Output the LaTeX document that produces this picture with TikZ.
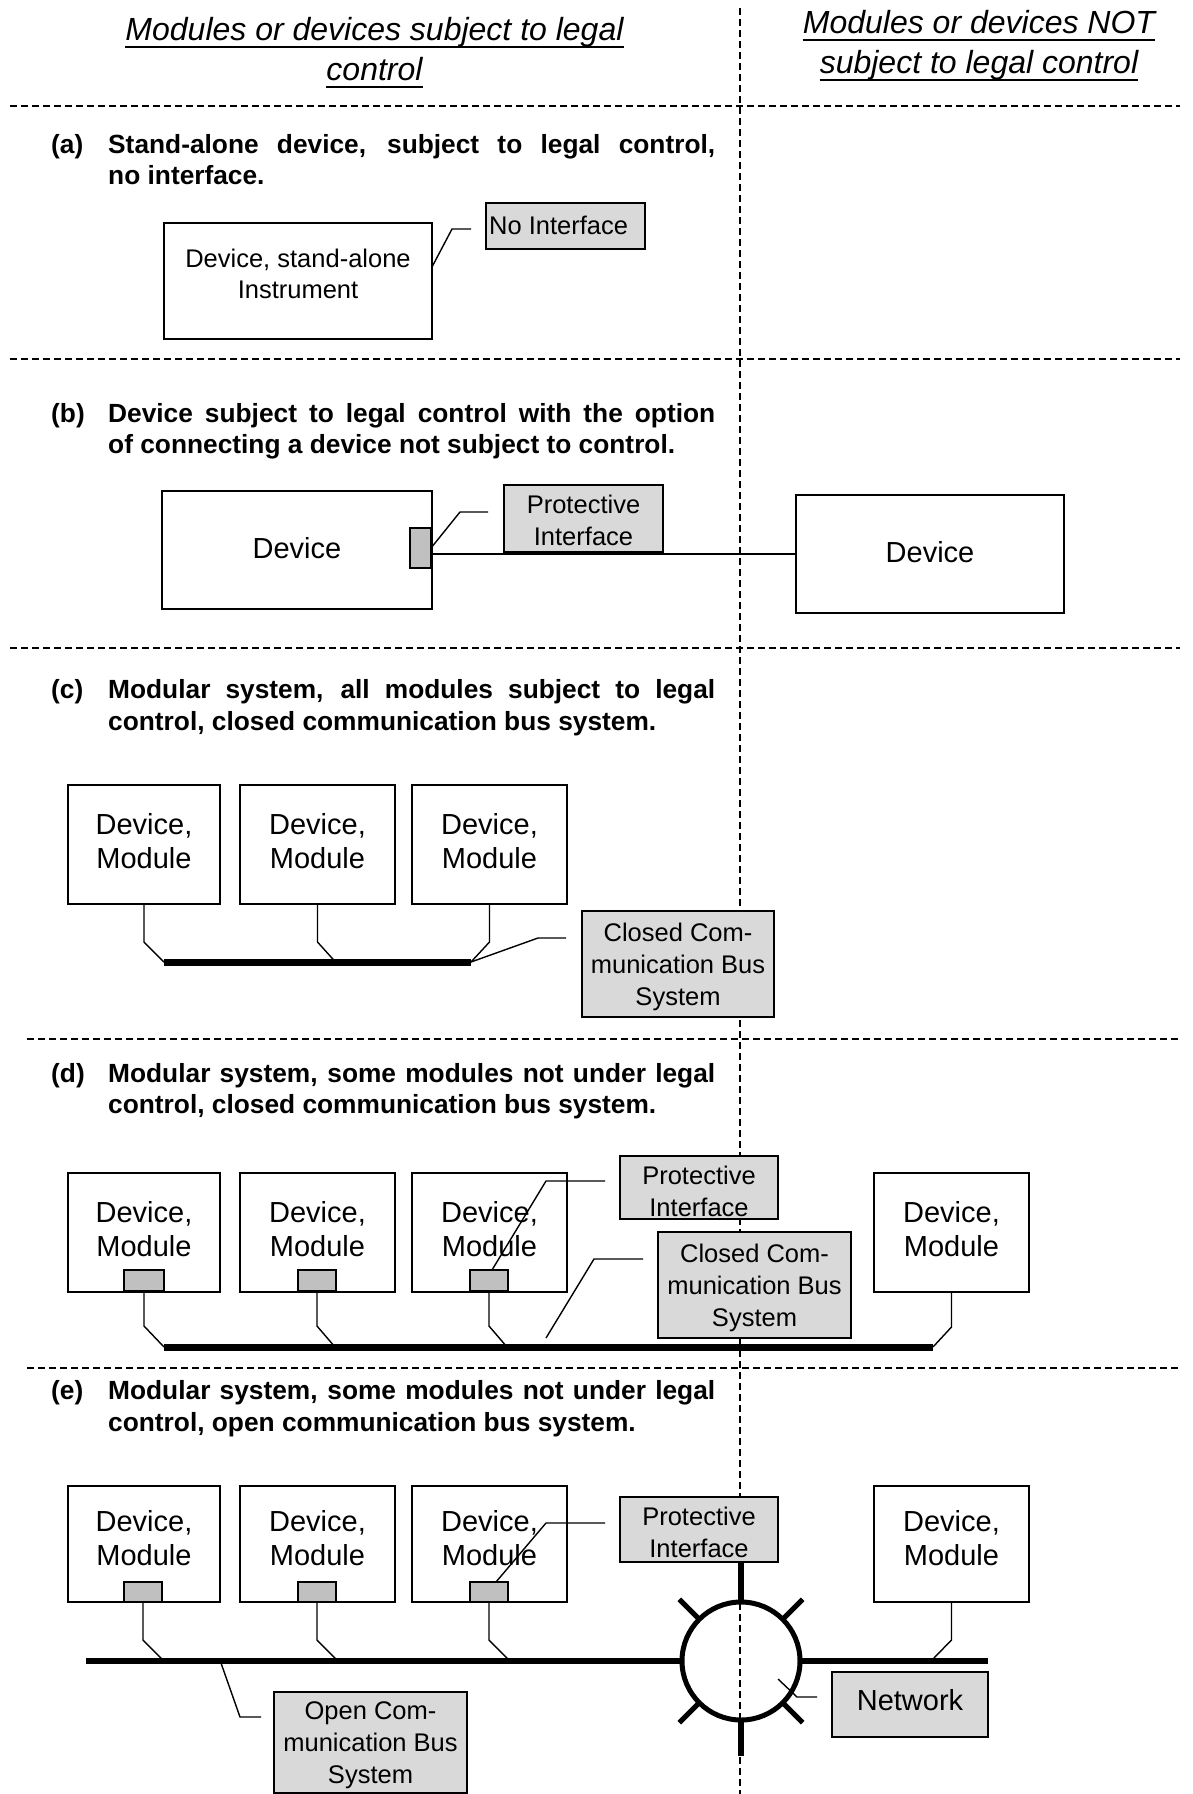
\documentclass[tikz,border=0pt]{standalone}
\usepackage{fontspec}
\setmainfont{Liberation Sans}
\definecolor{boxgray}{HTML}{D9D9D9}
\definecolor{smgray}{HTML}{C0C0C0}
\newcommand\tl[1]{\begin{tabular}[t]{@{}c@{}}#1\end{tabular}}
\newcommand\jline[1]{\makebox[607pt][s]{#1}}
\begin{document}
\begin{tikzpicture}[x=1pt,y=-1pt,
  dev/.style={draw, line width=1.7pt, fill=white, inner sep=0pt, outer sep=0pt, anchor=north west},
  gbox/.style={dev, fill=boxgray},
  sbox/.style={dev, fill=smgray, line width=1.5pt},
  wire/.style={line width=1.4pt},
  busline/.style={line width=7pt},
  busthin/.style={line width=6pt},
  stub/.style={line width=6.5pt},
  spike/.style={line width=5pt},
  dashln/.style={line width=1.3pt, dash pattern=on 7pt off 4pt},
  bigtxt/.style={inner sep=0pt, anchor=base, font=\fontsize{29}{34}\selectfont},
  smtxt/.style={inner sep=0pt, anchor=base, font=\fontsize{25.5}{32}\selectfont},
  hdtxt/.style={inner sep=0pt, anchor=base, font=\fontsize{32}{40}\selectfont\itshape},
  lbl/.style={inner sep=0pt, anchor=base west, font=\fontsize{26.3}{31}\selectfont\bfseries},
]
\useasboundingbox[fill=white] (0,0) rectangle (1192,1794);

% ---------- dashed grid ----------
\coordinate (h1a) at (10,106);   \coordinate (h1b) at (1180,106);
\coordinate (h2a) at (10,359);   \coordinate (h2b) at (1180,359);
\coordinate (h3a) at (10,648);   \coordinate (h3b) at (1180,648);
\coordinate (h4a) at (27,1039);  \coordinate (h4b) at (1180,1039);
\coordinate (h5a) at (27,1368);  \coordinate (h5b) at (1180,1368);
\coordinate (va) at (740,8);     \coordinate (vb) at (740,1794);
\foreach \p in {h1,h2,h3,h4,h5} \draw[dashln] (\p a) -- (\p b);
\draw[dashln] (va) -- (vb);

% ---------- headers ----------
\node[hdtxt] (hl1) at (374.5,40) {Modules or devices subject to legal};
\node[hdtxt] (hl2) at (374.5,80) {control};
\node[hdtxt] (hr1) at (979,33) {Modules or devices NOT};
\node[hdtxt] (hr2) at (979,73) {subject to legal control};
\foreach \n in {hl1,hl2,hr1,hr2}
  \draw[line width=2pt] ([yshift=-7pt]\n.base west) -- ([yshift=-7pt]\n.base east);

% ---------- section headings ----------
\node[lbl] (la) at (51,153) {(a)};
\node[lbl] (la1) at (108,153) {\jline{Stand-alone device, subject to legal control,}};
\node[lbl] (la2) at (108,184) {no interface.};
\node[lbl] (lb) at (51,422) {(b)};
\node[lbl] (lb1) at (108,422) {\jline{Device subject to legal control with the option}};
\node[lbl] (lb2) at (108,453) {of connecting a device not subject to control.};
\node[lbl] (lc) at (51,698) {(c)};
\node[lbl] (lc1) at (108,698) {\jline{Modular system, all modules subject to legal}};
\node[lbl] (lc2) at (108,730) {control, closed communication bus system.};
\node[lbl] (ld) at (51,1082) {(d)};
\node[lbl] (ld1) at (108,1082) {\jline{Modular system, some modules not under legal}};
\node[lbl] (ld2) at (108,1113) {control, closed communication bus system.};
\node[lbl] (le) at (51,1399) {(e)};
\node[lbl] (le1) at (108,1399) {\jline{Modular system, some modules not under legal}};
\node[lbl] (le2) at (108,1431) {control, open communication bus system.};

% ---------- boxes ----------
% (a)
\node[dev, minimum width=268pt, minimum height=116pt] (a) at (164,223) {};
\node[gbox, minimum width=159pt, minimum height=46pt] (aNI) at (486,203) {};
% (b)
\node[dev, minimum width=270pt, minimum height=118pt] (bL) at (162,491) {};
\node[sbox, minimum width=21pt, minimum height=40pt] (bS) at (410,528) {};
\node[gbox, minimum width=159pt, minimum height=67pt] (bPI) at (504,485) {};
\node[dev, minimum width=268pt, minimum height=118pt] (bR) at (796,495) {};
% (c)
\node[dev, minimum width=152pt, minimum height=119pt] (c1) at (68,785) {};
\node[dev, minimum width=155pt, minimum height=119pt] (c2) at (240,785) {};
\node[dev, minimum width=155pt, minimum height=119pt] (c3) at (412,785) {};
\node[gbox, minimum width=192pt, minimum height=106pt] (cCC) at (582,911) {};
% (d)
\node[dev, minimum width=152pt, minimum height=119pt] (d1) at (68,1173) {};
\node[dev, minimum width=155pt, minimum height=119pt] (d2) at (240,1173) {};
\node[dev, minimum width=155pt, minimum height=119pt] (d3) at (412,1173) {};
\node[dev, minimum width=155pt, minimum height=119pt] (d4) at (874,1173) {};
\node[sbox, minimum width=40pt, minimum height=21pt] (d1s) at (124,1270) {};
\node[sbox, minimum width=38pt, minimum height=21pt] (d2s) at (298,1270) {};
\node[sbox, minimum width=38pt, minimum height=21pt] (d3s) at (470,1270) {};
\node[gbox, minimum width=158pt, minimum height=63pt] (dPI) at (620,1156) {};
\node[gbox, minimum width=193pt, minimum height=106pt] (dCC) at (658,1232) {};
% (e)
\node[dev, minimum width=152pt, minimum height=116pt] (e1) at (68,1486) {};
\node[dev, minimum width=155pt, minimum height=116pt] (e2) at (240,1486) {};
\node[dev, minimum width=155pt, minimum height=116pt] (e3) at (412,1486) {};
\node[dev, minimum width=155pt, minimum height=116pt] (e4) at (874,1486) {};
\node[sbox, minimum width=38pt, minimum height=20pt] (e1s) at (124,1582) {};
\node[sbox, minimum width=38pt, minimum height=20pt] (e2s) at (298,1582) {};
\node[sbox, minimum width=38pt, minimum height=20pt] (e3s) at (470,1582) {};
\node[gbox, minimum width=158pt, minimum height=65pt] (ePI) at (620,1497) {};
\node[gbox, minimum width=193pt, minimum height=101pt] (eCC) at (274,1692) {};
\node[gbox, minimum width=156pt, minimum height=65pt] (net) at (832,1672) {};
\node[draw, circle, line width=5pt, minimum size=118pt, inner sep=0pt, outer sep=0pt] (ring) at (741,1661) {};

% ---------- box texts ----------
\node[smtxt, font=\fontsize{25.5}{31}\selectfont] (at) at (298,267) {\tl{Device, stand-alone\\Instrument}};
\node[smtxt, anchor=base west] (nit) at (489,234) {No Interface};
\node[bigtxt] (blt) at (297,558) {Device};
\node[smtxt] (bpit) at (583.5,513) {\tl{Protective\\Interface}};
\node[bigtxt] (brt) at (930,562) {Device};
\node[bigtxt] (c1t) at (144,834) {\tl{Device,\\Module}};
\node[bigtxt] (c2t) at (317.5,834) {\tl{Device,\\Module}};
\node[bigtxt] (c3t) at (489.5,834) {\tl{Device,\\Module}};
\node[smtxt] (cct) at (678,941) {\tl{Closed Com-\\munication Bus\\System}};
\node[bigtxt] (d1t) at (144,1222) {\tl{Device,\\Module}};
\node[bigtxt] (d2t) at (317.5,1222) {\tl{Device,\\Module}};
\node[bigtxt] (d3t) at (489.5,1222) {\tl{Device,\\Module}};
\node[bigtxt] (d4t) at (951.5,1222) {\tl{Device,\\Module}};
\node[smtxt] (dpit) at (699,1184) {\tl{Protective\\Interface}};
\node[smtxt] (dcct) at (754.5,1262) {\tl{Closed Com-\\munication Bus\\System}};
\node[bigtxt] (e1t) at (144,1531) {\tl{Device,\\Module}};
\node[bigtxt] (e2t) at (317.5,1531) {\tl{Device,\\Module}};
\node[bigtxt] (e3t) at (489.5,1531) {\tl{Device,\\Module}};
\node[bigtxt] (e4t) at (951.5,1531) {\tl{Device,\\Module}};
\node[smtxt] (epit) at (699,1525) {\tl{Protective\\Interface}};
\node[smtxt] (ecct) at (370.5,1719) {\tl{Open Com-\\munication Bus\\System}};
\node[bigtxt] (nett) at (910,1710) {Network};

% ---------- connectors (a) ----------
\coordinate (ak) at (452,229); \coordinate (ae) at (471,229);
\draw[wire] ([yshift=14pt]a.east) -- (ak) -- (ae);
% (b)
\coordinate (bk) at (460,512); \coordinate (be) at (488,512);
\draw[wire] (bS.east) -- (bk) -- (be);
\draw[wire] (bS.east |- bR.west) -- (bR.west);
% (c)
\coordinate (cbL) at (164,962); \coordinate (cbR) at (471,962);
\draw[busline] (cbL) -- (cbR);
\draw[wire] (c1.south) -- ++(0,38) -- (cbL);
\draw[wire] (c2.south) -- ++(0,38) -- ++(18,20);
\draw[wire] (c3.south) -- ++(0,38) -- (cbR);
\coordinate (cck) at (538,938); \coordinate (cce) at (566,938);
\draw[wire] (cbR) -- (cck) -- (cce);
% (d)
\coordinate (dbL) at (164,1347); \coordinate (dbR) at (933,1347);
\draw[busline] (dbL) -- (dbR);
\draw[wire] (d1s.south) -- ++(0,35) -- (dbL);
\draw[wire] (d2s.south) -- ++(0,35) -- ++(18,21);
\draw[wire] (d3s.south) -- ++(0,35) -- ++(18,21);
\draw[wire] (d4.south) -- ++(0,35) -- (dbR);
\coordinate (dpk) at (546,1181); \coordinate (dpe) at (605,1181);
\draw[wire] ([xshift=3pt]d3s.north) -- (dpk) -- (dpe);
\coordinate (dcs) at (546,1338); \coordinate (dck) at (594,1259); \coordinate (dce) at (643,1259);
\draw[wire] (dcs) -- (dck) -- (dce);
% (e)
\coordinate (ebL) at (86,1661); \coordinate (ebR) at (988,1661);
\draw[busthin] (ebL) -- (ring.west);
\draw[busthin] (ring.east) -- (ebR);
\draw[wire] (e1s.south) -- ++(0,38) -- ++(19,19);
\draw[wire] (e2s.south) -- ++(0,38) -- ++(19,19);
\draw[wire] (e3s.south) -- ++(0,38) -- ++(19,19);
\draw[wire] (e4.south) -- ++(0,38) -- ++(-18.5,19);
\coordinate (eos) at (221,1663); \coordinate (eok) at (240,1717); \coordinate (eoe) at (261,1717);
\draw[wire] (eos) -- (eok) -- (eoe);
\coordinate (epk) at (546,1523); \coordinate (epe) at (605,1523);
\draw[wire] ([xshift=7pt]e3s.north) -- (epk) -- (epe);
\draw[stub] (ring.north) -- (ring.north |- ePI.south);
\draw[stub] (ring.south) -- ++(0,36);
\draw[spike] (ring.45) -- ++(20,-20);
\draw[spike] (ring.135) -- ++(-20,-20);
\draw[spike] (ring.225) -- ++(-20,20);
\draw[spike] (ring.315) -- ++(20,20);
\coordinate (nk1) at (778,1679); \coordinate (nk2) at (797,1697); \coordinate (nk3) at (817,1697);
\draw[wire] (nk1) -- (nk2) -- (nk3);
\end{tikzpicture}
\end{document}
